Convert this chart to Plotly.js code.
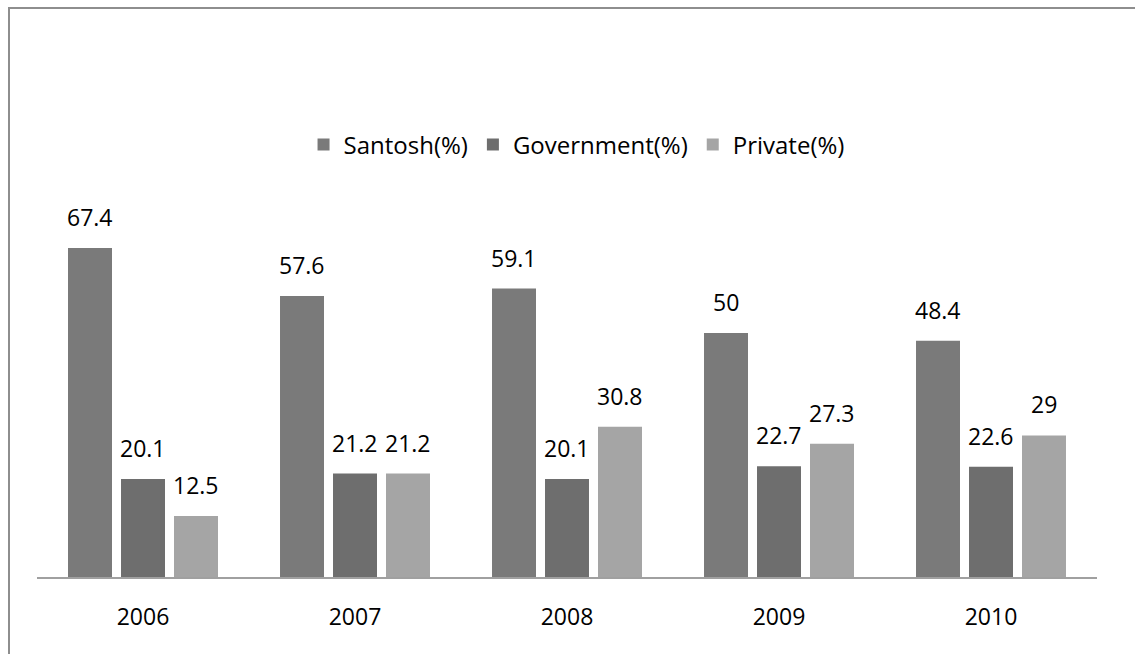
<!DOCTYPE html>
<html>
<head>
<meta charset="utf-8">
<script src="https://cdn.plot.ly/plotly-3.0.1.min.js"></script>
<style>
  html, body { margin: 0; padding: 0; background: #fff; }
  #chart { width: 1135px; height: 654px; position: absolute; left: 0; top: 0; }
  #frame { position: absolute; left: 8px; top: 7px; width: 2000px; height: 2000px;
           border-left: 2px solid #8e8e8e; border-top: 2px solid #8e8e8e; pointer-events: none; }
</style>
</head>
<body>
<div id="chart"></div>
<div id="frame"></div>
<script>
const years = ['2006', '2007', '2008', '2009', '2010'];
const seriesNames = ['Santosh(%)', 'Government(%)', 'Private(%)'];
const santosh = [67.4, 57.6, 59.1, 50, 48.4];
const government = [20.1, 21.2, 20.1, 22.7, 22.6];
const privateVals = [12.5, 21.2, 30.8, 27.3, 29];

const seriesValues = [santosh, government, privateVals];
const colors = ['#7a7a7a', '#6e6e6e', '#a5a5a5'];
const font = 'Open Sans, Noto Sans, sans-serif';

const traces = seriesValues.map((vals, i) => ({
  type: 'bar',
  name: seriesNames[i],
  x: years,
  y: vals,
  marker: { color: colors[i] },
  hoverinfo: 'skip'
}));

const slotPx = 53;
const annotations = [];
seriesValues.forEach((vals, i) => {
  vals.forEach((v, j) => {
    annotations.push({
      x: j, y: v, xref: 'x', yref: 'y',
      text: String(v), showarrow: false,
      xanchor: 'center', yanchor: 'bottom',
      xshift: (i - 1) * slotPx, yshift: 13,
      font: { family: font, size: 23, color: '#000' }
    });
  });
});

const layout = {
  width: 1135, height: 654,
  margin: { l: 37, r: 38, t: 200, b: 77 },
  paper_bgcolor: '#fff', plot_bgcolor: '#fff',
  barmode: 'group', bargap: 0.25, bargroupgap: 0.17,
  showlegend: true,
  legend: {
    orientation: 'h', x: 0.509, xanchor: 'center', y: 1.146, yanchor: 'middle',
    font: { family: font, size: 24, color: '#000' },
    itemclick: false, itemdoubleclick: false, traceorder: 'normal'
  },
  xaxis: {
    type: 'category', range: [-0.5, years.length - 0.5], autorange: false,
    showline: true, linecolor: '#a0a0a0', linewidth: 2,
    ticks: '', showgrid: false, zeroline: false, ticklabelstandoff: 18,
    tickfont: { family: font, size: 23, color: '#000' }
  },
  yaxis: {
    range: [0, 77.25], autorange: false, visible: false, showgrid: false, zeroline: false
  },
  annotations: annotations
};

Plotly.newPlot('chart', traces, layout, { displayModeBar: false, staticPlot: true });
</script>
</body>
</html>
